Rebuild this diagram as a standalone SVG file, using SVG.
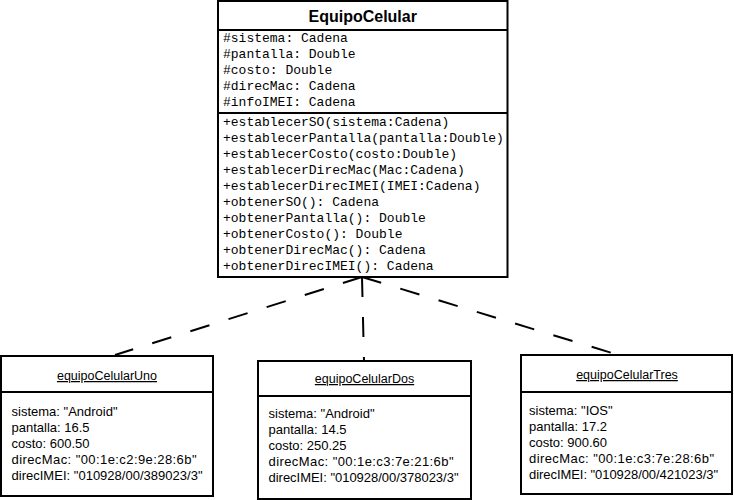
<svg xmlns="http://www.w3.org/2000/svg" width="734" height="500" viewBox="0 0 734 500">
<style>
.box{fill:#fff;stroke:#000;stroke-width:2}
.sep{stroke:#000;stroke-width:2}
.title{font-family:"Liberation Sans",Arial,sans-serif;font-weight:bold;font-size:16px;fill:#000}
.mono{font-family:"Liberation Mono","Courier New",monospace;font-size:13px;fill:#000}
.otitle{font-family:"Liberation Sans",Arial,sans-serif;font-size:12.5px;fill:#000;text-decoration:underline}
.attr{font-family:"Liberation Sans",Arial,sans-serif;font-size:13px;fill:#000}
.dep{fill:none;stroke:#000;stroke-width:2;stroke-dasharray:20 20}
</style>
<rect width="734" height="500" fill="#fff"/>
<g id="connectors">
<line class="dep" x1="362" y1="277" x2="115" y2="355"/>
<line class="dep" x1="362" y1="277" x2="364" y2="361"/>
<line class="dep" x1="362" y1="277" x2="612" y2="353"/>
</g>
<g id="EquipoCelular">
<rect class="box" x="218" y="1" width="289.5" height="276"/>
<line class="sep" x1="218" y1="30" x2="507.5" y2="30"/>
<line class="sep" x1="218" y1="113" x2="507.5" y2="113"/>
<text class="title" x="362.7" y="22" text-anchor="middle">EquipoCelular</text>
<text class="mono" x="223" y="42">#sistema: Cadena</text>
<text class="mono" x="223" y="58">#pantalla: Double</text>
<text class="mono" x="223" y="74">#costo: Double</text>
<text class="mono" x="223" y="90">#direcMac: Cadena</text>
<text class="mono" x="223" y="106">#infoIMEI: Cadena</text>
<text class="mono" x="223" y="126">+establecerSO(sistema:Cadena)</text>
<text class="mono" x="223" y="142">+establecerPantalla(pantalla:Double)</text>
<text class="mono" x="223" y="158">+establecerCosto(costo:Double)</text>
<text class="mono" x="223" y="174">+establecerDirecMac(Mac:Cadena)</text>
<text class="mono" x="223" y="190">+establecerDirecIMEI(IMEI:Cadena)</text>
<text class="mono" x="223" y="206">+obtenerSO(): Cadena</text>
<text class="mono" x="223" y="222">+obtenerPantalla(): Double</text>
<text class="mono" x="223" y="238">+obtenerCosto(): Double</text>
<text class="mono" x="223" y="254">+obtenerDirecMac(): Cadena</text>
<text class="mono" x="223" y="270">+obtenerDirecIMEI(): Cadena</text>
</g>
<g id="equipoCelularUno">
<rect class="box" x="1" y="356" width="212" height="140"/>
<line class="sep" x1="1" y1="392" x2="213" y2="392"/>
<text class="otitle" x="107" y="380" text-anchor="middle">equipoCelularUno</text>
<text class="attr" x="11.5" y="416">sistema: "Android"</text>
<text class="attr" x="11.5" y="432">pantalla: 16.5</text>
<text class="attr" x="11.5" y="448">costo: 600.50</text>
<text class="attr" x="11.5" y="464" textLength="185">direcMac: "00:1e:c2:9e:28:6b"</text>
<text class="attr" x="11.5" y="480" textLength="191">direcIMEI: "010928/00/389023/3"</text>
</g>
<g id="equipoCelularDos">
<rect class="box" x="258" y="361" width="213" height="138"/>
<line class="sep" x1="258" y1="396" x2="471" y2="396"/>
<text class="otitle" x="364.5" y="383" text-anchor="middle">equipoCelularDos</text>
<text class="attr" x="268.5" y="418">sistema: "Android"</text>
<text class="attr" x="268.5" y="434">pantalla: 14.5</text>
<text class="attr" x="268.5" y="450">costo: 250.25</text>
<text class="attr" x="268.5" y="466" textLength="185">direcMac: "00:1e:c3:7e:21:6b"</text>
<text class="attr" x="268.5" y="482" textLength="190">direcIMEI: "010928/00/378023/3"</text>
</g>
<g id="equipoCelularTres">
<rect class="box" x="521" y="355" width="211" height="139"/>
<line class="sep" x1="521" y1="392" x2="732" y2="392"/>
<text class="otitle" x="627" y="379" text-anchor="middle">equipoCelularTres</text>
<text class="attr" x="529" y="415">sistema: "IOS"</text>
<text class="attr" x="529" y="431">pantalla: 17.2</text>
<text class="attr" x="529" y="447">costo: 900.60</text>
<text class="attr" x="529" y="463" textLength="185">direcMac: "00:1e:c3:7e:28:6b"</text>
<text class="attr" x="529" y="479" textLength="189">direcIMEI: "010928/00/421023/3"</text>
</g>
</svg>
